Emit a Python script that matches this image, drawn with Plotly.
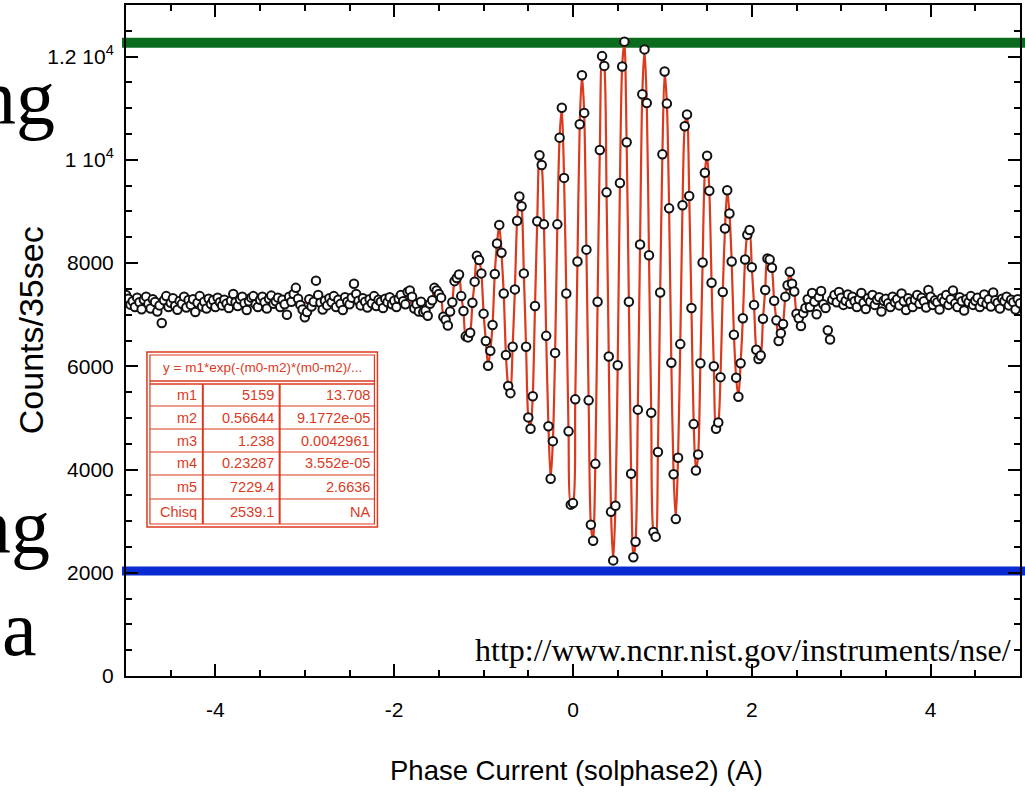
import numpy as np
import plotly.graph_objects as go

# ---------------- data ----------------
x_start, x_step = -5.0, 0.025   # scan grid of the phase current (A)

counts_left = [
    7380, 7310, 7195, 7260, 7150, 7330, 7240, 7105, 7290, 7350,
    7210, 7120, 7300, 7245, 7060, 7180, 6840, 7280, 7360, 7150,
    7230, 7320, 7170, 7095, 7265, 7210, 7350, 7140, 7285, 7190,
    7300, 7050, 7230, 7360, 7160, 7250, 7120, 7310, 7205, 7280,
    7150, 7330, 7240, 7180, 7290, 7215, 7130, 7270, 7400, 7240,
    7170, 7300, 7350, 7220, 7090, 7260, 7330, 7360, 7200, 7150,
    7290, 7350, 7240, 7120, 7310, 7370, 7210, 7260, 7330, 7150,
    7290, 7200, 7000, 7350, 7250, 7400, 7520, 7310, 7190, 7100,
    6950, 7050, 7300, 7160, 7250, 7660, 7380, 7230, 7100, 7270,
    7180, 7320, 7240, 7360, 7150, 7290, 7210, 7090, 7340, 7250,
    7200, 7330, 7600, 7400, 7270, 7180, 7320, 7250, 7140, 7300,
    7220, 7360, 7170, 7290, 7250, 7130, 7310, 7240, 7340, 7200,
    7270, 7150, 7310, 7380, 7260, 7200, 7440, 7470, 7350, 7120,
    7200, 7060,
]

counts_center = [
    7250, 7050, 7080, 6980, 7210, 7280, 7520, 7470, 7400, 7330,
    6960, 6900, 6790, 7060, 7240, 7650, 7710, 7780, 7360, 7070,
    6580, 6560, 6650, 7230, 7640, 8140, 8060, 7800, 7020, 6490,
    6010, 6300, 6800, 7790, 8380, 8740, 8200, 7410, 6220, 5620,
    5480, 6380, 7490, 8820, 9290, 9100, 7800, 6380, 5010, 4790,
    5420, 7170, 8810, 10090, 9900, 8750, 6590, 4840, 3820, 4550,
    6260, 8750, 10430, 11010, 9650, 7410, 4740, 3320, 3350, 5360,
    8030, 10690, 11640, 10910, 8260, 5340, 2930, 2620, 4110, 7250,
    10190, 12010, 11820, 9370, 6190, 3180, 2240, 3300, 6020, 9550,
    11810, 12290, 10340, 7250, 3920, 2300, 2600, 5160, 8360, 11270,
    12140, 11100, 8150, 5100, 2790, 2700, 4340, 7430, 10110, 11710,
    11090, 9060, 6070, 3910, 3040, 4230, 6430, 9120, 10650, 10880,
    9300, 7130, 4880, 3980, 4290, 6060, 8010, 9750, 10080, 9400,
    7620, 6000, 4790, 4910, 5790, 7440, 8670, 9410, 8960, 8030,
    6610, 5780, 5410, 6060, 6930, 8070, 8550, 8640, 7920, 7190,
    6320, 6140, 6210, 6920, 7480, 8090, 8070, 7910, 7270, 6890,
    6490, 6640, 6820, 7350, 7570, 7830, 7600, 7450, 7020, 6930,
    6780, 7030, 7130,
]

counts_right = [
    7300, 7150, 7420, 7250, 7010, 7340, 7460, 7200, 7130, 6700,
    6520, 7290, 7380, 7240, 7440, 7330, 7190, 7270, 7390, 7210,
    7350, 7260, 7150, 7300, 7420, 7230, 7110, 7320, 7250, 7380,
    7190, 7290, 7340, 7060, 7270, 7310, 7220, 7150, 7350, 7240,
    7300, 7180, 7410, 7260, 7090, 7320, 7250, 7150, 7290, 7380,
    7210, 7330, 7260, 7140, 7480, 7350, 7190, 7280, 7240, 7100,
    7320, 7260, 7380, 7190, 7300, 7470, 7220, 7150, 7340, 7260,
    7080, 7300, 7240, 7360, 7190, 7270, 7330, 7150, 7250, 7390,
    7210, 7300, 7160, 7430, 7280, 7230, 7120, 7310, 7260, 7350,
    7180, 7290, 7240, 7100, 7300, 7220,
]

fit_params = ["m1", "m2", "m3", "m4", "m5", "Chisq"]
fit_values = ["5159", "0.56644", "1.238", "0.23287", "7229.4", "2539.1"]
fit_errors = ["13.708", "9.1772e-05", "0.0042961", "3.552e-05", "2.6636", "NA"]
fit_header = "y = m1*exp(-(m0-m2)*(m0-m2)/..."
m5_baseline = 7229.4

upper_level = 12270   # green marker line
lower_level = 2035    # blue marker line

x_tickvals = [-4, -2, 0, 2, 4]
x_ticktext = ["-4", "-2", "0", "2", "4"]
y_tickvals = [0, 2000, 4000, 6000, 8000, 10000, 12000]
y_ticktext = ["0", "2000", "4000", "6000", "8000", "1 10<sup>4</sup>", "1.2 10<sup>4</sup>"]

x_title = "Phase Current (solphase2) (A)"
y_title = "Counts/35sec"
url_text = "http://www.ncnr.nist.gov/instruments/nse/"

# ---------------- build ----------------
counts = counts_left + counts_center + counts_right
xs = np.round(x_start + x_step * np.arange(len(counts)), 4)
n_left = len(counts_left)
n_center = len(counts_center)
x_center = xs[n_left:n_left + n_center]

W, H = 1025, 793
L, R, T, B = 126, 1022, 5, 676


def px(v):
    return (v - L) / (R - L)


def py(v):
    return (B - v) / (B - T)


RED = "#dc3a1e"
SANS = "Liberation Sans, Arial, Helvetica, sans-serif"
SERIF = "Liberation Serif, Times New Roman, serif"

fig = go.Figure()

# fit line (flat baseline on both sides, oscillation in the middle)
fig.add_trace(go.Scatter(x=[xs[0], x_center[0]], y=[m5_baseline, m5_baseline],
                         mode="lines", line=dict(color=RED, width=2),
                         showlegend=False, hoverinfo="skip"))
fig.add_trace(go.Scatter(x=x_center, y=counts_center, mode="lines",
                         line=dict(color=RED, width=2.2, shape="spline", smoothing=0.8),
                         showlegend=False, hoverinfo="skip"))
fig.add_trace(go.Scatter(x=[x_center[-1], xs[-1]], y=[m5_baseline, m5_baseline],
                         mode="lines", line=dict(color=RED, width=2),
                         showlegend=False, hoverinfo="skip"))

# measured points
fig.add_trace(go.Scatter(x=xs, y=counts, mode="markers",
                         marker=dict(symbol="circle", size=8.5, color="white",
                                     line=dict(color="#111111", width=2)),
                         showlegend=False))

shapes = []
# horizontal marker lines
shapes.append(dict(type="line", xref="paper", yref="y", x0=px(122), x1=px(1030),
                   y0=upper_level, y1=upper_level, line=dict(color="#0b6b1f", width=10),
                   layer="below"))
shapes.append(dict(type="line", xref="paper", yref="y", x0=px(122), x1=px(1030),
                   y0=lower_level, y1=lower_level, line=dict(color="#0a2ad2", width=9),
                   layer="below"))

# inset table
tx0, tx1, ty0, ty1 = 147, 378, 352, 527
shapes.append(dict(type="rect", xref="paper", yref="paper",
                   x0=px(tx0), x1=px(tx1), y0=py(ty1), y1=py(ty0),
                   fillcolor="white", line=dict(color=RED, width=1.5), layer="above"))
shapes.append(dict(type="rect", xref="paper", yref="paper",
                   x0=px(tx0 + 3), x1=px(tx1 - 3), y0=py(ty1 - 3), y1=py(ty0 + 3),
                   line=dict(color=RED, width=1.2), layer="above"))
for yy in (381, 384):
    shapes.append(dict(type="line", xref="paper", yref="paper",
                       x0=px(tx0 + 3), x1=px(tx1 - 3), y0=py(yy), y1=py(yy),
                       line=dict(color=RED, width=1.6), layer="above"))
row_edges = [384, 406, 429, 452, 475, 499, 524]
for yy in row_edges[1:-1]:
    shapes.append(dict(type="line", xref="paper", yref="paper",
                       x0=px(tx0 + 3), x1=px(tx1 - 3), y0=py(yy), y1=py(yy),
                       line=dict(color=RED, width=1.2), layer="above"))
for xx in (203, 280):
    shapes.append(dict(type="line", xref="paper", yref="paper",
                       x0=px(xx), x1=px(xx), y0=py(384), y1=py(524),
                       line=dict(color=RED, width=2), layer="above"))

annotations = []
annotations.append(dict(text=fit_header, xref="paper", yref="paper",
                        x=px((tx0 + tx1) / 2), y=py(368), showarrow=False,
                        xanchor="center", yanchor="middle",
                        font=dict(family=SANS, size=13.5, color=RED)))
for i, (p, v, e) in enumerate(zip(fit_params, fit_values, fit_errors)):
    yc = (row_edges[i] + row_edges[i + 1]) / 2
    for txt, xr in ((p, 199), (v, 276), (e, 373)):
        annotations.append(dict(text=txt, xref="paper", yref="paper",
                                x=px(xr), y=py(yc), showarrow=False,
                                xanchor="right", yanchor="middle",
                                font=dict(family=SANS, size=14.5, color=RED)))

# axis titles
annotations.append(dict(text=y_title, xref="paper", yref="paper", x=px(31), y=py(330),
                        textangle=-90, showarrow=False, xanchor="center", yanchor="middle",
                        font=dict(family=SANS, size=34, color="black")))
annotations.append(dict(text=x_title, xref="paper", yref="paper", x=px(578), y=py(770),
                        showarrow=False, xanchor="center", yanchor="middle",
                        font=dict(family=SANS, size=27.5, color="black")))
# url
annotations.append(dict(text=url_text, xref="paper", yref="paper", x=px(1015), y=py(650),
                        showarrow=False, xanchor="right", yanchor="middle",
                        font=dict(family=SERIF, size=32, color="black")))
# background slide letters (cut off at the left)
for txt, xr, yc in (("ng", 57, 97), ("ng", 52, 526), ("a", 39, 628)):
    annotations.append(dict(text=txt, xref="paper", yref="paper", x=px(xr), y=py(yc),
                            showarrow=False, xanchor="right", yanchor="middle",
                            font=dict(family=SERIF, size=78, color="black")))

axis_common = dict(showline=True, linecolor="black", linewidth=2, mirror="ticks",
                   ticks="inside", ticklen=12, tickwidth=1.5, tickcolor="black",
                   showgrid=False, zeroline=False,
                   tickfont=dict(family=SANS, size=21, color="black"))

fig.update_xaxes(range=[-5, 5], tickmode="array", tickvals=x_tickvals, ticktext=x_ticktext,
                 ticklabelstandoff=14,
                 minor=dict(ticks="inside", ticklen=6, tickwidth=1.5, tickcolor="black",
                            tickmode="linear", tick0=-5, dtick=0.5, showgrid=False),
                 **axis_common)
fig.update_yaxes(range=[0, 13000], tickmode="array", tickvals=y_tickvals, ticktext=y_ticktext,
                 ticklabelstandoff=6,
                 minor=dict(ticks="inside", ticklen=6, tickwidth=1.5, tickcolor="black",
                            tickmode="linear", tick0=0, dtick=500, showgrid=False),
                 **axis_common)

fig.update_layout(width=W, height=H, margin=dict(l=L, r=W - R, t=T, b=H - B),
                  paper_bgcolor="white", plot_bgcolor="white",
                  shapes=shapes, annotations=annotations, showlegend=False)

fig.write_html("out.html",
               config={"displayModeBar": False},
               post_script="document.body.style.margin='0px';"
                           "document.body.style.overflow='hidden';")
